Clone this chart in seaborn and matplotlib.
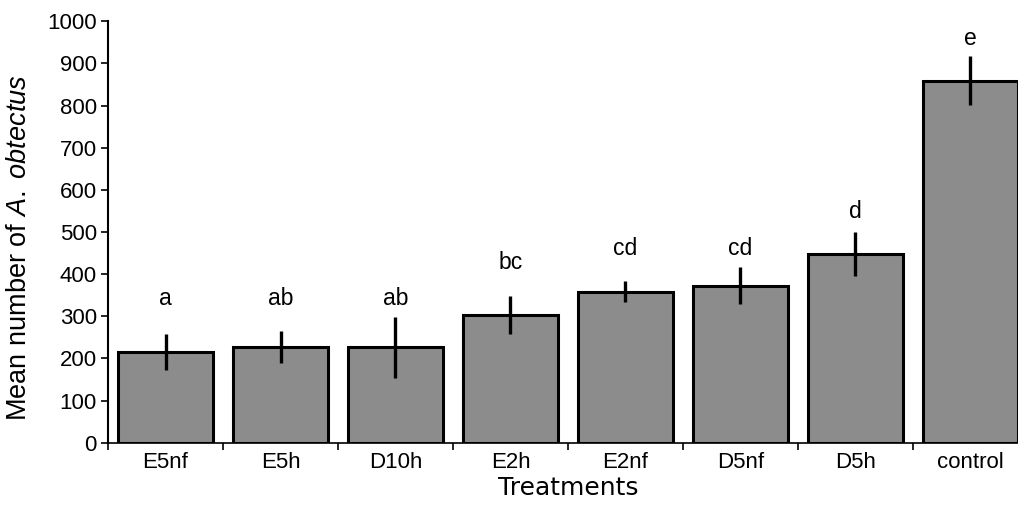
import numpy as np
import pandas as pd
import matplotlib
matplotlib.use("Agg")
import matplotlib.pyplot as plt
import seaborn as sns

treatments = ["E5nf", "E5h", "D10h", "E2h", "E2nf", "D5nf", "D5h", "control"]
mean_count = [216, 228, 226, 303, 358, 372, 447, 859]
err_count = [43, 38, 72, 46, 25, 44, 52, 58]
letters = ["a", "ab", "ab", "bc", "cd", "cd", "d", "e"]
letter_y = [343, 343, 343, 428, 462, 462, 549, 958]

sns.set_theme(style="white")
plt.rcParams['font.family'] = ['Liberation Sans', 'DejaVu Sans']
plt.rcParams['mathtext.fontset'] = 'custom'
plt.rcParams['mathtext.rm'] = 'Liberation Sans'
plt.rcParams['mathtext.it'] = 'Liberation Sans:italic'
plt.rcParams['text.color'] = 'black'
plt.rcParams['axes.labelcolor'] = 'black'
plt.rcParams['xtick.color'] = 'black'
plt.rcParams['ytick.color'] = 'black'

df = pd.DataFrame({"Treatment": treatments, "Mean": mean_count})

fig = plt.figure(figsize=(10.18, 5.05), dpi=100)
ax = fig.add_axes([108 / 1018, 1 - 442.7 / 505, 920 / 1018, 421.4 / 505])

sns.barplot(data=df, x="Treatment", y="Mean", order=treatments, color="#8c8c8c",
            saturation=1, edgecolor="black", linewidth=2.2, width=0.83,
            errorbar=None, ax=ax)

xs = np.arange(len(treatments))
ax.errorbar(xs, mean_count, yerr=err_count, fmt="none", ecolor="black",
            elinewidth=2.4, capsize=0, zorder=5)

for x, lab, ly in zip(xs, letters, letter_y):
    ax.text(x, ly, lab, ha="center", va="center", fontsize=16.5, color="black")

ax.set_ylim(0, 1000)
ax.set_xlim(-0.5, 7.5)
ax.set_yticks(range(0, 1001, 100))
ax.tick_params(axis="y", labelsize=16, length=5, width=1.2, direction="out", left=True, pad=3)
ax.tick_params(axis="x", which="major", labelsize=16, length=0, pad=7)
ax.set_xticks(np.arange(-0.5, 8, 1), minor=True)
ax.tick_params(axis="x", which="minor", length=5, width=1.2, direction="out", bottom=True)

for side in ["top", "right"]:
    ax.spines[side].set_visible(False)
ax.spines["left"].set_linewidth(1.5)
ax.spines["bottom"].set_linewidth(1.2)
ax.spines["left"].set_color("black")
ax.spines["bottom"].set_color("black")

ax.set_ylabel("Mean number of $\\mathit{A.\\ obtectus}$", fontsize=19.5)
ax.yaxis.set_label_coords(-0.083, 0.462)
ax.set_xlabel("Treatments", fontsize=18, family=["DejaVu Sans"], labelpad=2)

fig.savefig("out.png", dpi=100)
